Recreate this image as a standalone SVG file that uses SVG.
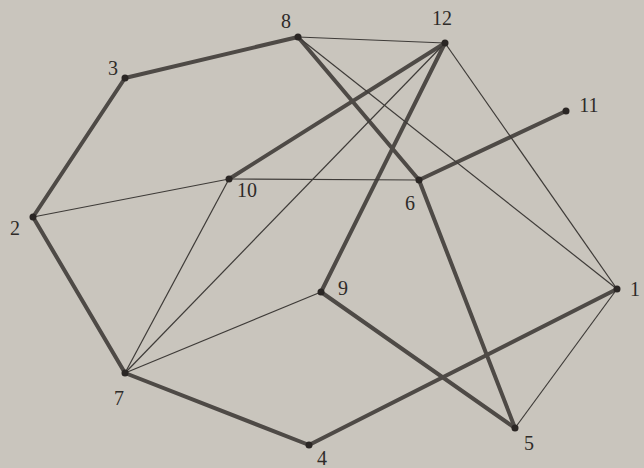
<svg xmlns="http://www.w3.org/2000/svg" width="644" height="468" viewBox="0 0 644 468">
<style>
.bg{fill:#c9c5bd}
.thick{stroke:#4e4a46;stroke-width:4;stroke-linecap:round;fill:none}
.thin{stroke:#3e3b38;stroke-width:1.2;fill:none}
.dot{fill:#2a2624}
.lbl{font-family:"Liberation Serif","DejaVu Serif",serif;font-size:20px;fill:#2e2b29;text-anchor:middle}
</style>
<rect class="bg" x="0" y="0" width="644" height="468"/>
<g id="connectors">
<line class="thick" x1="125" y1="78" x2="298" y2="37"/>
<line class="thick" x1="33" y1="217" x2="125" y2="78"/>
<line class="thick" x1="33" y1="217" x2="125" y2="373"/>
<line class="thick" x1="125" y1="373" x2="309" y2="445"/>
<line class="thick" x1="309" y1="445" x2="617" y2="289"/>
<line class="thick" x1="321" y1="292" x2="515" y2="428"/>
<line class="thick" x1="419" y1="180" x2="515" y2="428"/>
<line class="thick" x1="298" y1="37" x2="419" y2="180"/>
<line class="thick" x1="419" y1="180" x2="566" y2="111"/>
<line class="thick" x1="229" y1="179" x2="445" y2="43"/>
<line class="thick" x1="445" y1="43" x2="321" y2="292"/>
<line class="thin" x1="298" y1="37" x2="445" y2="43"/>
<line class="thin" x1="298" y1="37" x2="617" y2="289"/>
<line class="thin" x1="445" y1="43" x2="125" y2="373"/>
<line class="thin" x1="445" y1="43" x2="617" y2="289"/>
<line class="thin" x1="33" y1="217" x2="229" y2="179"/>
<line class="thin" x1="229" y1="179" x2="419" y2="180"/>
<line class="thin" x1="229" y1="179" x2="125" y2="373"/>
<line class="thin" x1="125" y1="373" x2="321" y2="292"/>
<line class="thin" x1="617" y1="289" x2="515" y2="428"/>
</g>
<g id="n1"><circle class="dot" cx="617" cy="289" r="3.5"/><text class="lbl" x="635" y="296">1</text></g>
<g id="n2"><circle class="dot" cx="33" cy="217" r="3.5"/><text class="lbl" x="15" y="235">2</text></g>
<g id="n3"><circle class="dot" cx="125" cy="78" r="3.5"/><text class="lbl" x="113" y="75">3</text></g>
<g id="n4"><circle class="dot" cx="309" cy="445" r="3.5"/><text class="lbl" x="322" y="465">4</text></g>
<g id="n5"><circle class="dot" cx="515" cy="428" r="3.5"/><text class="lbl" x="529" y="450">5</text></g>
<g id="n6"><circle class="dot" cx="419" cy="180" r="3.5"/><text class="lbl" x="410" y="210">6</text></g>
<g id="n7"><circle class="dot" cx="125" cy="373" r="3.5"/><text class="lbl" x="119" y="405">7</text></g>
<g id="n8"><circle class="dot" cx="298" cy="37" r="3.5"/><text class="lbl" x="286" y="28">8</text></g>
<g id="n9"><circle class="dot" cx="321" cy="292" r="3.5"/><text class="lbl" x="343" y="295">9</text></g>
<g id="n10"><circle class="dot" cx="229" cy="179" r="3.5"/><text class="lbl" x="247" y="197">10</text></g>
<g id="n11"><circle class="dot" cx="566" cy="111" r="3.5"/><text class="lbl" x="589" y="112">11</text></g>
<g id="n12"><circle class="dot" cx="445" cy="43" r="3.5"/><text class="lbl" x="442" y="25">12</text></g>
</svg>
